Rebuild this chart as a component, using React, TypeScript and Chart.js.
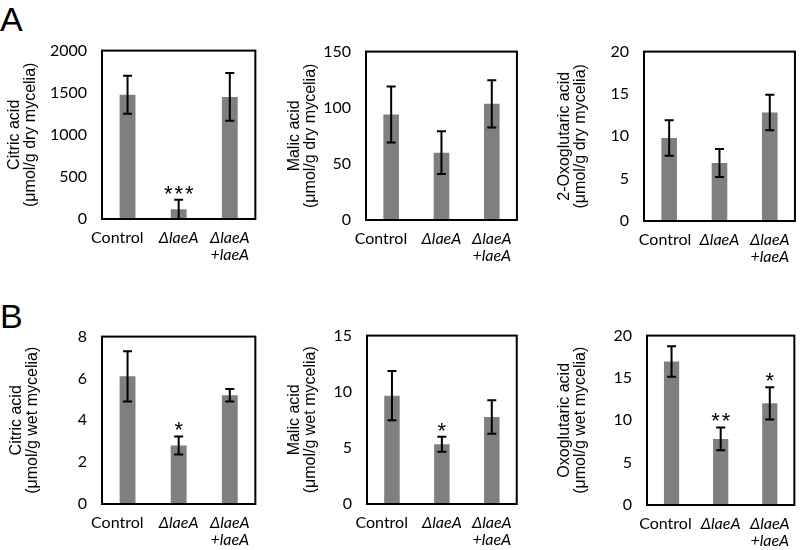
import React, { useEffect, useRef } from "react";
import { Chart, registerables } from "chart.js";

Chart.register(...registerables);

// ---- data ----
const categories: (string | string[])[] = ["Control", "ΔlaeA", ["ΔlaeA", "+laeA"]];

const citricDry = [1475, 115, 1450];
const citricDryErr = [225, 115, 283];
const citricDryStars = ["", "***", ""];

const malicDry = [94, 60, 103.5];
const malicDryErr = [25, 19, 21];
const malicDryStars = ["", "", ""];

const oxoDry = [9.8, 6.85, 12.8];
const oxoDryErr = [2.1, 1.65, 2.1];
const oxoDryStars = ["", "", ""];

const citricWet = [6.1, 2.8, 5.2];
const citricWetErr = [1.2, 0.43, 0.3];
const citricWetStars = ["", "*", ""];

const malicWet = [9.65, 5.33, 7.75];
const malicWetErr = [2.2, 0.67, 1.5];
const malicWetStars = ["", "*", ""];

const oxoWet = [16.95, 7.8, 12.0];
const oxoWetErr = [1.8, 1.35, 1.9];
const oxoWetStars = ["", "**", "*"];

const yMaxes = [2000, 150, 20, 8, 15, 20];
const ySteps = [500, 50, 5, 2, 5, 5];

const titles = [
  ["Citric acid", "(μmol/g dry mycelia)"],
  ["Malic acid", "(μmol/g dry mycelia)"],
  ["2-Oxoglutaric acid", "(μmol/g dry mycelia)"],
  ["Citric acid", "(μmol/g wet mycelia)"],
  ["Malic acid", "(μmol/g wet mycelia)"],
  ["Oxoglutaric acid", "(μmol/g wet mycelia)"],
];

const TICK_FONT = "Lato, 'Open Sans', sans-serif";
const TITLE_FONT = "'Liberation Sans', Arial, sans-serif";
const BAR_COLOR = "#7f7f7f";
const TICK_SIZE = 16;

type Spec = {
  title: string[];
  values: number[];
  errors: number[];
  stars: string[];
  max: number;
  step: number;
  x0: number;
  L: number;
  T: number;
  R: number;
  B: number;
  titlePad: number;
  ctrlPad: number;
};

const specs: Spec[] = [
  { title: titles[0], values: citricDry, errors: citricDryErr, stars: citricDryStars, max: yMaxes[0], step: ySteps[0], x0: 0, L: 102, T: 46, R: 258, B: 219, titlePad: 7, ctrlPad: 5 },
  { title: titles[1], values: malicDry, errors: malicDryErr, stars: malicDryStars, max: yMaxes[1], step: ySteps[1], x0: 265, L: 366, T: 47, R: 520, B: 220, titlePad: 22, ctrlPad: 5 },
  { title: titles[2], values: oxoDry, errors: oxoDryErr, stars: oxoDryStars, max: yMaxes[2], step: ySteps[2], x0: 530, L: 644, T: 47, R: 798, B: 221, titlePad: 27, ctrlPad: 2 },
  { title: titles[3], values: citricWet, errors: citricWetErr, stars: citricWetStars, max: yMaxes[3], step: ySteps[3], x0: 0, L: 102, T: 332, R: 258, B: 504, titlePad: 9, ctrlPad: 5 },
  { title: titles[4], values: malicWet, errors: malicWetErr, stars: malicWetStars, max: yMaxes[4], step: ySteps[4], x0: 265, L: 367, T: 331, R: 520, B: 504, titlePad: 22, ctrlPad: 5 },
  { title: titles[5], values: oxoWet, errors: oxoWetErr, stars: oxoWetStars, max: yMaxes[5], step: ySteps[5], x0: 530, L: 647, T: 331, R: 798, B: 505, titlePad: 27, ctrlPad: 3 },
];

const PAD_TOP = 20;
const X_AXIS_H = 62;

function Panel({ spec }: { spec: Spec }) {
  const ref = useRef<HTMLCanvasElement>(null);
  const top = spec.T - PAD_TOP;
  const width = spec.R + 2 - spec.x0;
  const height = spec.B + X_AXIS_H - top;

  useEffect(() => {
    if (!ref.current) return;
    const overlay = {
      id: "errbars",
      afterDatasetsDraw(chart: any) {
        const { ctx, chartArea } = chart;
        const ys = chart.scales.y;
        const meta = chart.getDatasetMeta(0);
        ctx.save();
        ctx.strokeStyle = "#000";
        ctx.lineWidth = 2;
        ctx.strokeRect(chartArea.left, chartArea.top, chartArea.right - chartArea.left, chartArea.bottom - chartArea.top);
        meta.data.forEach((bar: any, i: number) => {
          const v = spec.values[i];
          const e = spec.errors[i];
          const yT = ys.getPixelForValue(v + e);
          const yB = ys.getPixelForValue(Math.max(0, v - e));
          const x = bar.x;
          ctx.beginPath();
          ctx.moveTo(x, yT);
          ctx.lineTo(x, yB);
          ctx.moveTo(x - 4.5, yT);
          ctx.lineTo(x + 4.5, yT);
          ctx.moveTo(x - 4.5, yB);
          ctx.lineTo(x + 4.5, yB);
          ctx.stroke();
          const s = spec.stars[i];
          if (s) {
            ctx.fillStyle = "#000";
            ctx.font = `22px ${TITLE_FONT}`;
            ctx.textAlign = "center";
            ctx.textBaseline = "alphabetic";
            const n = s.length;
            const gap = 10.5;
            for (let k = 0; k < n; k++) {
              ctx.fillText("*", x + (k - (n - 1) / 2) * gap, yT + 1);
            }
          }
        });
        ctx.restore();
      },
    };

    const chart = new Chart(ref.current, {
      type: "bar",
      data: {
        labels: categories as any,
        datasets: [
          {
            data: spec.values,
            backgroundColor: BAR_COLOR,
            borderWidth: 0,
            barPercentage: 0.31,
            categoryPercentage: 1,
          },
        ],
      },
      options: {
        responsive: false,
        animation: false,
        devicePixelRatio: 1,
        layout: { padding: { top: PAD_TOP, right: 2, left: 0, bottom: 0 } },
        plugins: { legend: { display: false }, tooltip: { enabled: false } },
        scales: {
          x: {
            grid: { display: false, drawTicks: false },
            border: { display: false },
            ticks: {
              color: "#000",
              padding: 10,
              maxRotation: 0,
              autoSkip: false,
              callback: function (this: any, _v: any, i: number) {
                const lab = categories[i];
                if (i === 0 && typeof lab === "string") {
                  return lab + "\u00a0".repeat(spec.ctrlPad);
                }
                return lab as any;
              },
              font: ((c: any) => ({
                family: TICK_FONT,
                size: TICK_SIZE,
                style: c.index > 0 ? "italic" : "normal",
                lineHeight: 1.08,
              })) as any,
            },
            afterFit: (s: any) => {
              s.height = X_AXIS_H;
            },
          },
          y: {
            min: 0,
            max: spec.max,
            grid: { display: false, drawTicks: false },
            border: { display: false },
            ticks: {
              stepSize: spec.step,
              color: "#000",
              padding: 15,
              font: { family: TICK_FONT, size: TICK_SIZE },
              callback: (v: any) => String(v),
            },
            title: {
              display: true,
              text: spec.title,
              color: "#000",
              font: { family: TITLE_FONT, size: 16, lineHeight: 1.0 },
              padding: { top: spec.titlePad, bottom: 0 },
            },
            afterFit: (s: any) => {
              s.width = spec.L - spec.x0;
            },
          },
        },
      },
      plugins: [overlay],
    });
    return () => chart.destroy();
  }, [spec]);

  return (
    <canvas
      ref={ref}
      width={width}
      height={height}
      style={{ position: "absolute", left: spec.x0, top, width, height }}
    />
  );
}

export default function App() {
  const labelStyle: React.CSSProperties = {
    position: "absolute",
    fontFamily: TITLE_FONT,
    fontSize: 34,
    lineHeight: "34px",
    color: "#000",
    margin: 0,
  };
  return (
    <div
      style={{
        position: "fixed",
        left: 0,
        top: 0,
        width: 800,
        height: 550,
        background: "#fff",
        overflow: "hidden",
      }}
    >
      <div style={{ ...labelStyle, left: 0, top: 2 }}>A</div>
      <div style={{ ...labelStyle, left: 0, top: 299 }}>B</div>
      {specs.map((s, i) => (
        <Panel key={i} spec={s} />
      ))}
    </div>
  );
}
